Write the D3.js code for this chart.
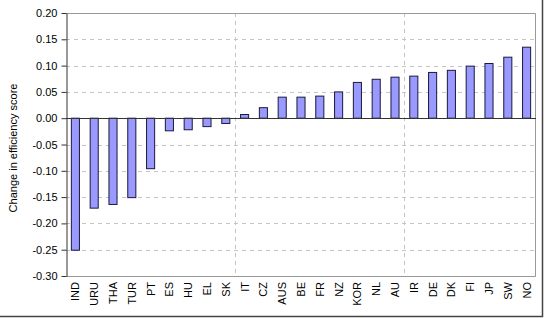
<!DOCTYPE html>
<html>
<head>
<meta charset="utf-8">
<script src="https://cdn.jsdelivr.net/npm/d3@7"></script>
<style>
  body { margin: 0; background: #fff; }
  svg { display: block; font-family: Arial, "Liberation Sans", sans-serif; }
</style>
</head>
<body>
<svg id="chart" width="547" height="318"></svg>
<script>
const countries = ["IND", "URU", "THA", "TUR", "PT", "ES", "HU", "EL", "SK", "IT", "CZ", "AUS", "BE",
  "FR", "NZ", "KOR", "NL", "AU", "IR", "DE", "DK", "FI", "JP", "SW", "NO"];
const changes = [-0.251, -0.171, -0.164, -0.151, -0.096, -0.024, -0.022, -0.016, -0.010, 0.007, 0.020,
  0.040, 0.040, 0.042, 0.050, 0.068, 0.074, 0.078, 0.080, 0.087, 0.091, 0.099, 0.104, 0.116, 0.135];
const yTicks = [0.20, 0.15, 0.10, 0.05, 0.00, -0.05, -0.10, -0.15, -0.20, -0.25, -0.30];
const dividers = ["IT", "IR"]; // dashed vertical lines before these

const data = countries.map((c, i) => ({ name: c, value: changes[i] }));

const margin = { top: 13, right: 11, bottom: 42, left: 66 };
const width = 547, height = 318;
const svg = d3.select("#chart");

const x = d3.scaleBand()
  .domain(countries)
  .range([margin.left, width - margin.right])
  .paddingInner(0.57)
  .paddingOuter(0.285);

const y = d3.scaleLinear()
  .domain([-0.30, 0.20])
  .range([height - margin.bottom, margin.top]);

const step = x.step();
const plotL = margin.left, plotR = width - margin.right;
const plotT = margin.top, plotB = height - margin.bottom;

// horizontal dashed gridlines
svg.append("g")
  .selectAll("line")
  .data(yTicks.filter(t => t !== 0.20 && t !== -0.30 && t !== 0))
  .join("line")
  .attr("x1", plotL).attr("x2", plotR)
  .attr("y1", d => Math.round(y(d)) + 0.5).attr("y2", d => Math.round(y(d)) + 0.5)
  .attr("stroke", "#c4c4c4")
  .attr("stroke-dasharray", "4,4");

// vertical dashed dividers, on the band boundary
const boundary = d => Math.round(x(d) - (step - x.bandwidth()) / 2) + 0.5;
svg.append("g")
  .selectAll("line")
  .data(dividers)
  .join("line")
  .attr("x1", boundary).attr("x2", boundary)
  .attr("y1", plotT).attr("y2", plotB)
  .attr("stroke", "#c4c4c4")
  .attr("stroke-dasharray", "4,4");

// plot border (top, right, bottom)
svg.append("path")
  .attr("d", `M${plotL},${plotT + 0.5}H${plotR - 0.5}V${plotB + 0.5}H${plotL}`)
  .attr("fill", "none")
  .attr("stroke", "#999");

// bars
svg.append("g")
  .selectAll("rect")
  .data(data)
  .join("rect")
  .attr("x", d => x(d.name))
  .attr("width", x.bandwidth())
  .attr("y", d => y(Math.max(0, d.value)))
  .attr("height", d => Math.abs(y(d.value) - y(0)))
  .attr("fill", "#9999ff")
  .attr("stroke", "#1a1a3a")
  .attr("stroke-width", 1);

// zero line
svg.append("line")
  .attr("x1", plotL).attr("x2", plotR)
  .attr("y1", Math.round(y(0)) + 0.5).attr("y2", Math.round(y(0)) + 0.5)
  .attr("stroke", "#333");

// y axis
const yAxis = svg.append("g")
  .attr("transform", `translate(${plotL + 0.5},0)`)
  .call(d3.axisLeft(y).tickValues(yTicks).tickFormat(d3.format(".2f")).tickSize(5).tickSizeOuter(0));
yAxis.select(".domain").attr("stroke", "#333");
yAxis.selectAll(".tick line").attr("stroke", "#333");
yAxis.selectAll(".tick text")
  .attr("x", -9)
  .attr("fill", "#000")
  .style("font-size", "11px")
  .style("font-family", "Arial, 'Liberation Sans', sans-serif")
  .text(d => d < 0 ? "-" + d3.format(".2f")(-d) : d3.format(".2f")(d));

// x labels
svg.append("g")
  .selectAll("text")
  .data(countries)
  .join("text")
  .attr("transform", d => `translate(${x(d) + x.bandwidth() / 2 + 4},${plotB + 6}) rotate(-90)`)
  .attr("text-anchor", "end")
  .style("font-size", "11px")
  .attr("fill", "#000")
  .text(d => d);

// y title
svg.append("text")
  .attr("transform", `translate(17,148) rotate(-90)`)
  .attr("text-anchor", "middle")
  .style("font-size", "11px")
  .attr("fill", "#000")
  .text("Change in efficiency score");

// outer frame (right and bottom)
svg.append("path")
  .attr("d", `M542.5,0V316.5H0`)
  .attr("fill", "none")
  .attr("stroke", "#444")
  .attr("stroke-width", 1.5);
</script>
</body>
</html>
